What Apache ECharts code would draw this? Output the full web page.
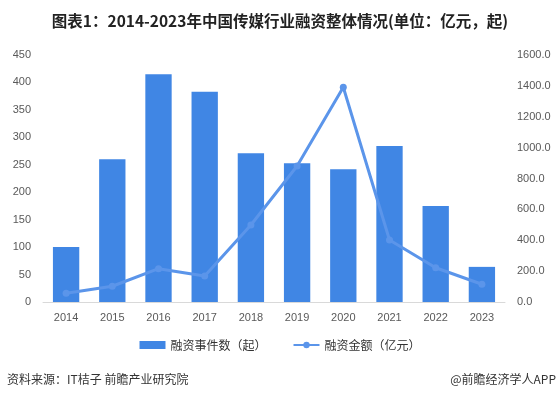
<!DOCTYPE html>
<html>
<head>
<meta charset="utf-8">
<script src="https://cdn.jsdelivr.net/npm/echarts@6/dist/echarts.min.js"></script>
<style>
html,body{margin:0;padding:0;background:#fff;}
#c{width:560px;height:399px;}
</style>
</head>
<body>
<div id="c"></div>
<script>
var categories = ['2014','2015','2016','2017','2018','2019','2020','2021','2022','2023'];
var eventCounts = [100, 260, 415, 383, 271, 253, 242, 284, 175, 64];
var amounts = [56, 102, 216, 168, 499, 881, 1391, 402, 222, 115];
var leftTicks = {min: 0, max: 450, interval: 50};
var rightTicks = {min: 0, max: 1600, interval: 200};
var titleText = '图表1：2014-2023年中国传媒行业融资整体情况(单位：亿元，起)';
var sourceText = '资料来源：IT桔子 前瞻产业研究院';
var brandText = '@前瞻经济学人APP';

var FONT = '"Noto Sans CJK SC", "Microsoft YaHei", sans-serif';
var chart = echarts.init(document.getElementById('c'), null, {renderer: 'canvas'});
chart.setOption({
  backgroundColor: '#fff',
  animation: false,
  title: {
    text: titleText,
    left: 'center',
    top: 8,
    textStyle: {fontFamily: FONT, fontSize: 15.5, fontWeight: 'bold', color: '#222'}
  },
  graphic: [
    {type: 'text', left: 7, top: 373, style: {text: sourceText, font: '12px ' + FONT, fill: '#333'}},
    {type: 'text', right: 4, top: 373, style: {text: brandText, font: '12px ' + FONT, fill: '#333'}}
  ],
  legend: {
    top: 334,
    left: 'center',
    itemGap: 26,
    textStyle: {fontFamily: FONT, fontSize: 12, color: '#333'},
    data: [
      {name: '融资事件数（起）', icon: 'rect', itemStyle: {color: '#4086e4'}},
      {name: '融资金额（亿元）'}
    ],
    itemWidth: 26,
    itemHeight: 8
  },
  grid: {left: 43, right: 55, top: 55, bottom: 97, containLabel: false},
  xAxis: {
    type: 'category',
    data: categories,
    axisLine: {lineStyle: {color: '#d9d9d9', width: 1}},
    axisTick: {show: false},
    axisLabel: {color: '#595959', fontSize: 11, margin: 10, fontFamily: 'sans-serif'}
  },
  yAxis: [
    {
      type: 'value', min: leftTicks.min, max: leftTicks.max, interval: leftTicks.interval,
      splitLine: {show: false}, axisLine: {show: false}, axisTick: {show: false},
      axisLabel: {color: '#595959', fontSize: 11, margin: 12, fontFamily: 'sans-serif'}
    },
    {
      type: 'value', min: rightTicks.min, max: rightTicks.max, interval: rightTicks.interval,
      splitLine: {show: false}, axisLine: {show: false}, axisTick: {show: false},
      axisLabel: {color: '#595959', fontSize: 11, margin: 12, fontFamily: 'sans-serif',
        formatter: function (v) { return v.toFixed(1); }}
    }
  ],
  series: [
    {
      name: '融资事件数（起）',
      type: 'bar',
      yAxisIndex: 0,
      data: eventCounts,
      barWidth: '57%',
      itemStyle: {color: '#4086e4'}
    },
    {
      name: '融资金额（亿元）',
      type: 'line',
      yAxisIndex: 1,
      data: amounts,
      symbol: 'circle',
      symbolSize: 7,
      lineStyle: {color: '#5b95ea', width: 3},
      itemStyle: {color: '#5b95ea'}
    }
  ]
});
</script>
</body>
</html>
